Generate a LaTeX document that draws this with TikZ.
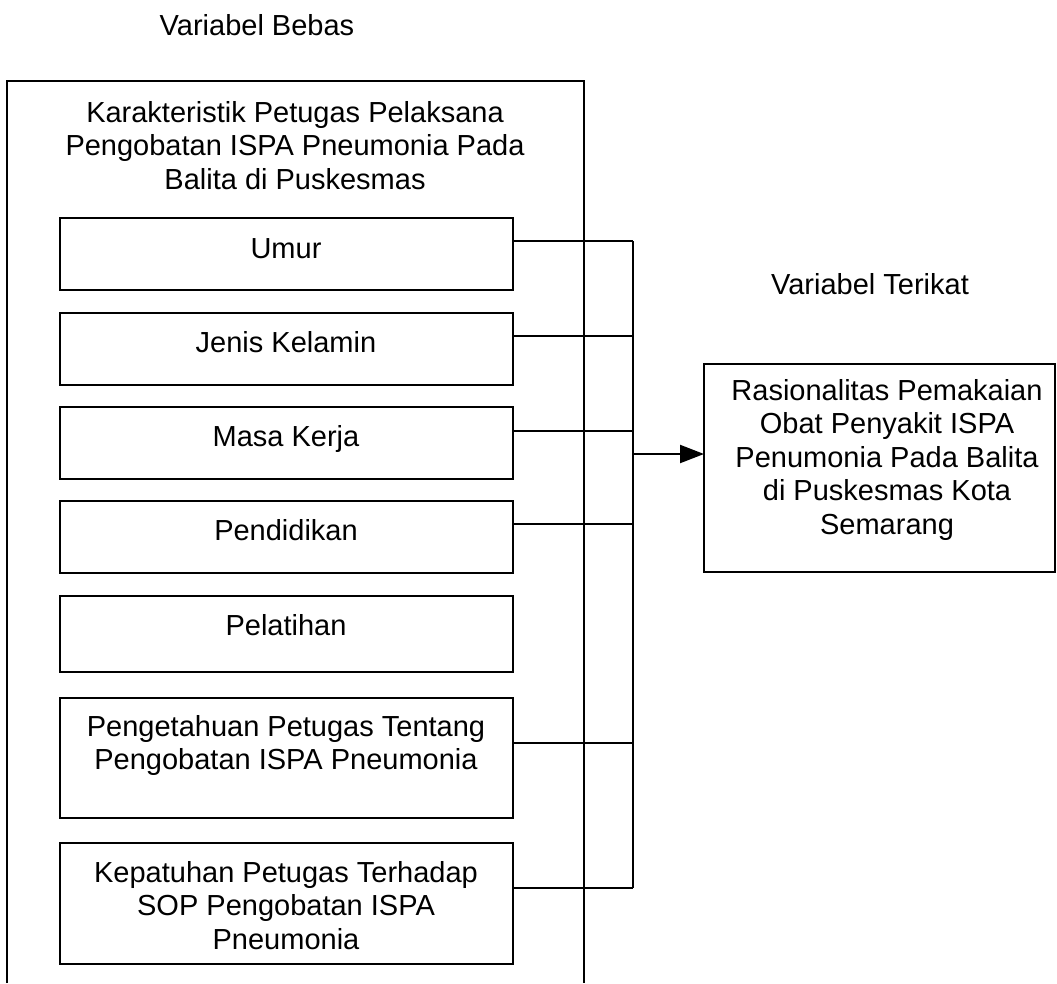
\documentclass[tikz,border=0pt]{standalone}
\usepackage{fontspec}
\setmainfont{Liberation Sans}
\usetikzlibrary{arrows.meta}
\newcommand\capstrut{\rule{0pt}{21pt}}
\begin{document}
\begin{tikzpicture}[x=1pt,y=-1pt,
  every node/.style={font=\fontsize{29}{33.5}\selectfont, inner sep=0pt, outer sep=0pt},
  ln/.style={line width=2.2pt},
  boxnode/.style={draw, line width=2.2pt, anchor=north west, minimum width=453pt},
  lbl/.style={anchor=north, align=center}]
\useasboundingbox (0,0) rectangle (1057,983);

% headings
\node[lbl] (vb) at (257,14) {\capstrut Variabel Bebas};
\node[lbl] (vt) at (870,273) {\capstrut Variabel Terikat};

% outer group frame (open at the bottom edge)
\coordinate (obl) at (7,983);
\coordinate (otl) at (7,81);
\coordinate (otr) at (584,81);
\coordinate (obr) at (584,983);
\draw[ln] (obl) -- (otl) -- (otr) -- (obr);
\node[lbl] (title) at (295,101) {\capstrut Karakteristik Petugas Pelaksana\\Pengobatan ISPA Pneumonia Pada\\Balita di Puskesmas};

% inner boxes
\node[boxnode, minimum height=72pt] (umur) at (60,218) {};
\node[lbl] (tumur) at (286,237) {\capstrut Umur};
\node[boxnode, minimum height=72pt] (jk) at (60,313) {};
\node[lbl] (tjk) at (286,331) {\capstrut Jenis Kelamin};
\node[boxnode, minimum height=72pt] (mk) at (60,407) {};
\node[lbl] (tmk) at (286,425) {\capstrut Masa Kerja};
\node[boxnode, minimum height=72pt] (pd) at (60,501) {};
\node[lbl] (tpd) at (286,519) {\capstrut Pendidikan};
\node[boxnode, minimum height=76pt] (pl) at (60,596) {};
\node[lbl] (tpl) at (286,614) {\capstrut Pelatihan};
\node[boxnode, minimum height=120pt] (pg) at (60,698) {};
\node[lbl] (tpg) at (286,715) {\capstrut Pengetahuan Petugas Tentang\\Pengobatan ISPA Pneumonia};
\node[boxnode, minimum height=121pt] (kp) at (60,843) {};
\node[lbl] (tkp) at (286,861) {\capstrut Kepatuhan Petugas Terhadap\\SOP Pengobatan ISPA\\Pneumonia};

% dependent variable box
\node[draw, line width=2.2pt, anchor=north west, minimum width=351pt, minimum height=208pt] (rb) at (704,364) {};
\node[lbl] (trb) at (887,379) {\capstrut Rasionalitas Pemakaian\\Obat Penyakit ISPA\\Penumonia Pada Balita\\di Puskesmas Kota\\Semarang};

% connectors
\coordinate (bus) at (633,454);
\coordinate (cu) at ([yshift=-23pt]umur.north east);
\coordinate (cj) at ([yshift=-23pt]jk.north east);
\coordinate (cm) at ([yshift=-24pt]mk.north east);
\coordinate (cp) at ([yshift=-23pt]pd.north east);
\coordinate (cg) at ([yshift=-45pt]pg.north east);
\coordinate (ck) at ([yshift=-45pt]kp.north east);
\foreach \c in {cu,cj,cm,cp,cg,ck} { \draw[ln] (\c) -- (\c -| bus); }
\draw[ln] (cu -| bus) -- (ck -| bus);
\draw[ln, -{Triangle[length=24pt,width=18pt]}] (bus) -- (bus -| rb.west);
\end{tikzpicture}
\end{document}
